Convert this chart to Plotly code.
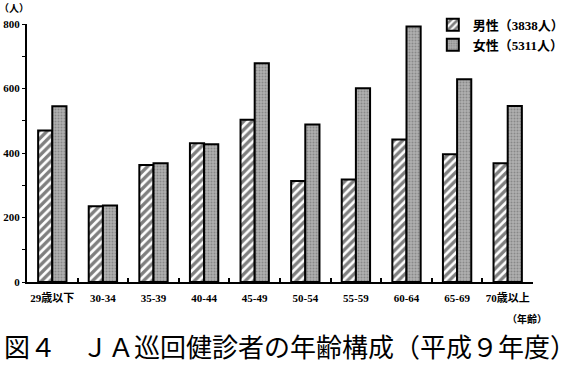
import plotly.graph_objects as go

categories = ["29歳以下", "30-34", "35-39", "40-44", "45-49", "50-54", "55-59", "60-64", "65-69", "70歳以上"]
male = [470, 235, 363, 430, 503, 313, 318, 442, 396, 368]
female = [545, 237, 368, 427, 678, 488, 601, 792, 629, 546]
male_name = "男性（3838人）"
female_name = "女性（5311人）"
y_ticks = [0, 200, 400, 600, 800]

fig = go.Figure()
fig.add_trace(go.Bar(
    x=categories, y=male, name=male_name,
    marker=dict(color="white",
                line=dict(color="black", width=2),
                pattern=dict(shape="/", fgcolor="black", bgcolor="white", size=6, solidity=0.55)),
))
fig.add_trace(go.Bar(
    x=categories, y=female, name=female_name,
    marker=dict(color="#a6a6a6",
                line=dict(color="black", width=2),
                pattern=dict(shape=".", fgcolor="#606060", bgcolor="#b0b0b0", size=3, solidity=0.35)),
))

tickfont = dict(family="Liberation Serif, Noto Sans CJK JP", size=11, color="black", weight="bold")

fig.update_layout(
    width=579, height=367,
    margin=dict(l=27, r=46, t=24, b=85, autoexpand=False),
    paper_bgcolor="white", plot_bgcolor="white",
    barmode="group", bargap=0.44, bargroupgap=0.0,
    showlegend=True,
    legend=dict(x=0.802, y=1.055, xanchor="left", yanchor="top",
                font=dict(family="Liberation Serif, Noto Sans CJK JP", size=13, color="black", weight="bold"),
                bgcolor="rgba(0,0,0,0)", itemwidth=30, tracegroupgap=2),
    xaxis=dict(showline=True, linecolor="black", linewidth=2, automargin=False, tickangle=0,
               ticks="inside", tickson="boundaries", ticklen=4, tickcolor="black", tickwidth=2,
               ticklabelstandoff=5,
               tickfont=tickfont, showgrid=False, zeroline=False),
    yaxis=dict(range=[0, 800], tickvals=y_ticks, showline=True, linecolor="black", linewidth=2,
               automargin=False,
               ticks="outside", ticklen=3, tickcolor="black", tickwidth=1,
               minor=dict(dtick=100, ticks="outside", ticklen=3, tickcolor="black"),
               tickfont=tickfont, showgrid=False, zeroline=False),
    annotations=[
        dict(text="（人）", xref="paper", yref="paper", x=0, y=1, xanchor="right", yanchor="bottom",
             xshift=4, yshift=7, showarrow=False,
             font=dict(family="Noto Sans CJK JP", size=10, color="black", weight="bold")),
        dict(text="（年齢）", xref="paper", yref="paper", x=1, y=0, xanchor="right", yanchor="middle",
             xshift=16, yshift=-36, showarrow=False,
             font=dict(family="Noto Sans CJK JP", size=10, color="black", weight="bold")),
        dict(text="図４　ＪＡ巡回健診者の年齢構成（平成９年度）", xref="paper", yref="paper",
             x=0, y=0, xanchor="left", yanchor="middle", xshift=-25, yshift=-63, showarrow=False,
             font=dict(family="Noto Sans CJK JP", size=26, color="black")),
    ],
)

fig.write_html("out.html",
               config={"displayModeBar": False},
               post_script="document.body.style.margin='0';document.body.style.overflow='hidden';")
